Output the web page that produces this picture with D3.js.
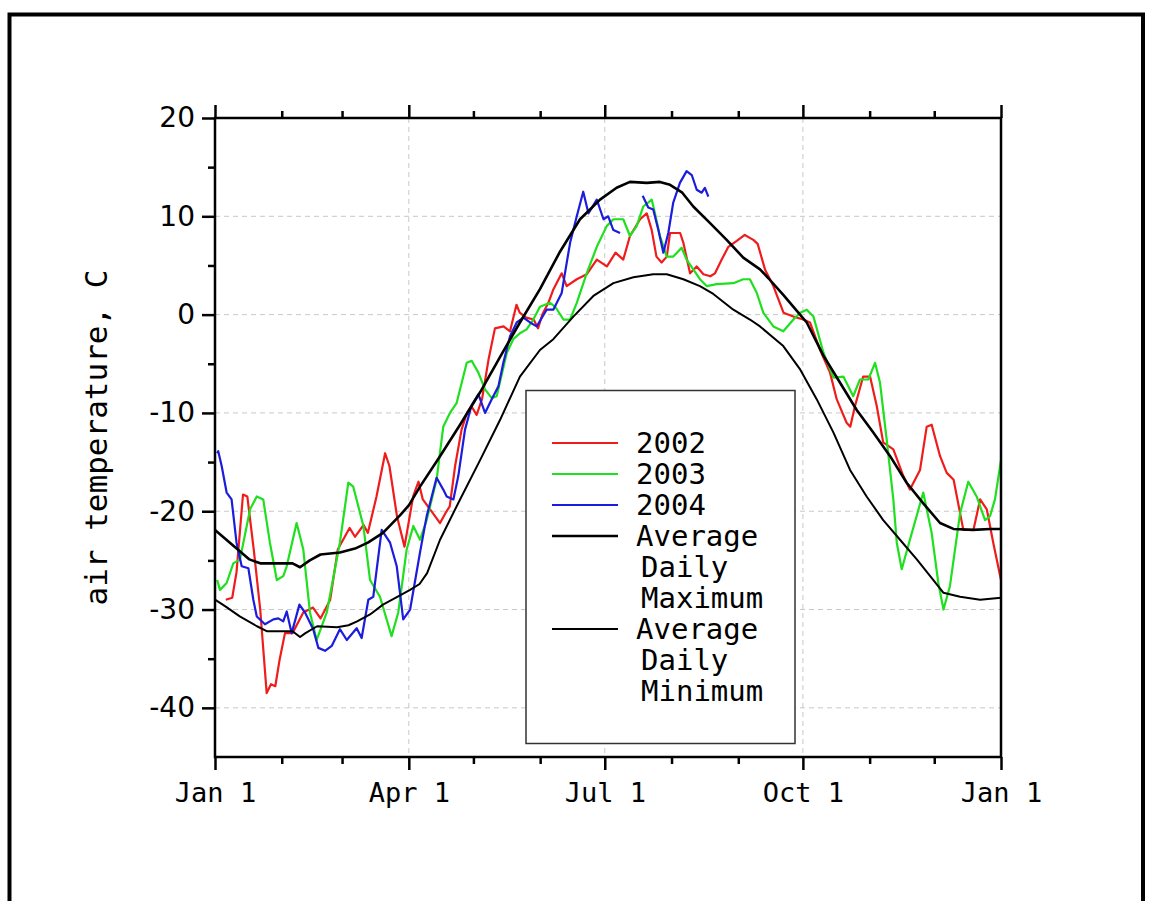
<!DOCTYPE html>
<html>
<head>
<meta charset="utf-8">
<script src="https://cdnjs.cloudflare.com/ajax/libs/d3/7.8.5/d3.min.js"></script>
<style>
  body { margin: 0; background: #fff; }
  svg { display: block; }
</style>
</head>
<body>
<div id="chart"><svg width="1152" height="901"></svg></div>
<script>
// day of year -> air temperature (C)
var temp2002 = [[5,-29.0],[8,-28.8],[10,-26.2],[13,-18.3],[15,-18.5],[18,-23.9],[21,-30.0],[24,-38.5],[26,-37.6],[28,-37.8],[30,-35.1],[32.5,-32.4],[36,-32.4],[41,-30.3],[45.5,-29.8],[49,-30.9],[53.5,-29.0],[57,-23.9],[62.5,-21.7],[65,-22.6],[69,-21.4],[71,-22.2],[75,-18.5],[79,-14.1],[81,-15.4],[84.5,-20.5],[88,-23.6],[92,-18.5],[94.5,-17.0],[96.5,-18.8],[101.5,-20.3],[104.5,-21.2],[107,-20.2],[109,-19.5],[111.5,-15.4],[114.5,-11.7],[117,-10.0],[119,-9.3],[121.5,-10.2],[124,-8.6],[125.5,-6.6],[127,-4.6],[130,-1.4],[134,-1.2],[137,-1.7],[140,1.0],[141.5,0.2],[144.5,-0.3],[148,-0.5],[150,-1.4],[152,0.0],[154.8,1.2],[157,2.5],[161,4.2],[163.3,2.9],[168,3.6],[172.6,4.1],[177.3,5.6],[182,4.9],[186,6.3],[189.6,5.6],[192.7,8.0],[197.4,9.7],[200.5,10.3],[202.8,8.6],[205,5.9],[207.4,5.3],[209.8,5.9],[211.3,8.3],[216,8.3],[217.5,7.3],[220.6,4.2],[223.7,4.9],[226.8,4.1],[230,3.9],[232.2,4.2],[235.3,5.6],[238.4,6.9],[242.3,7.5],[246,8.1],[250,7.6],[252,7.2],[255.4,4.6],[259.3,2.9],[264,0.2],[268.6,-0.2],[273.2,-0.5],[276.3,-0.8],[281,-3.6],[285.6,-5.9],[288.7,-8.6],[293.3,-11.0],[295,-11.4],[297.2,-9.3],[301,-6.3],[304.2,-6.3],[307.3,-9.3],[310.3,-13.0],[315,-13.7],[319.6,-16.4],[322.7,-17.8],[327.4,-15.8],[330.5,-11.4],[332.8,-11.2],[336.7,-14.4],[339.8,-16.1],[343,-16.8],[347.5,-21.9],[352.2,-21.9],[355.3,-18.8],[358.4,-19.8],[361.4,-23.2],[365,-27.0]];

var temp2003 = [[1,-27.0],[2.3,-28.0],[5.4,-27.3],[8.5,-25.3],[11.6,-24.9],[16.3,-19.8],[19.4,-18.5],[22.4,-18.8],[25.5,-23.2],[28.7,-27.0],[31.7,-26.6],[33.3,-25.6],[37.9,-21.2],[41,-23.9],[44.1,-30.3],[47.2,-33.1],[51.9,-30.3],[58,-23.2],[61.9,-17.1],[64.2,-17.5],[68.9,-21.5],[72,-27.0],[76.6,-28.7],[82,-32.7],[85.1,-30.3],[89,-23.9],[92.1,-21.5],[95.2,-22.9],[98.3,-20.9],[102.9,-16.8],[106,-11.4],[109.1,-10.0],[112.2,-9.0],[116.9,-4.9],[119.2,-4.7],[122.3,-5.9],[125.4,-7.6],[128.5,-8.5],[130.8,-8.3],[135.5,-3.9],[138.5,-2.5],[141.6,-1.9],[144.7,-1.5],[147.8,-0.5],[150.9,0.8],[155.6,1.2],[158,0.8],[161.8,-0.5],[164.9,-0.5],[168,1.2],[172.6,4.2],[177.3,6.9],[181.9,9.0],[185,9.7],[189.6,9.7],[192.7,8.0],[195.8,9.0],[198.9,11.0],[202.8,11.7],[204.3,10.3],[206.6,8.0],[209.8,5.9],[212.8,5.9],[216.7,6.8],[219,5.6],[222.1,4.6],[225.2,3.6],[228.3,2.9],[233,3.1],[240.7,3.2],[245.3,3.6],[248.4,3.6],[251.6,2.2],[254.6,0.2],[259.3,-1.2],[263.9,-1.7],[268.6,-0.5],[271.8,0.2],[274.8,0.5],[277.9,-0.2],[282.6,-3.9],[287.2,-6.4],[291.8,-6.3],[296.4,-8.3],[299.5,-6.6],[303.4,-6.6],[306.5,-4.9],[308.8,-6.9],[311.9,-12.7],[315,-18.8],[316.6,-23.2],[318.9,-25.9],[322.7,-22.9],[328.9,-18.1],[332.8,-22.2],[335.9,-27.3],[338.3,-30.0],[341.3,-27.6],[346,-20.2],[349.8,-17.0],[353.7,-18.5],[357.6,-20.9],[359.9,-20.5],[362.2,-18.8],[365,-14.8]];

// 2004 has a gap in early July (null = no data)
var temp2004 = [[1,-14.1],[1.5,-13.9],[3.1,-15.4],[5.4,-18.1],[7.7,-18.8],[10,-23.2],[12.4,-25.6],[15.5,-25.8],[17.8,-29.0],[19.4,-30.7],[23.2,-31.5],[27.1,-31.0],[29.4,-30.9],[31.7,-31.2],[33.3,-30.2],[35.6,-32.4],[39.2,-29.5],[41.8,-30.3],[45.6,-32.0],[48,-33.9],[51.1,-34.2],[54.2,-33.7],[58,-32.0],[61.2,-33.1],[65.8,-31.9],[68.1,-32.9],[71.2,-29.0],[73.5,-28.7],[77.4,-21.9],[81.3,-23.2],[84.4,-25.6],[87.4,-31.0],[90.6,-30.0],[95.2,-24.2],[98.3,-20.5],[102.9,-16.6],[106,-17.8],[107.6,-18.5],[110.7,-18.8],[113,-16.4],[116.1,-11.7],[119.2,-9.2],[122.3,-8.1],[125.4,-10.0],[128.5,-8.6],[131.6,-7.3],[133.9,-4.9],[137,-2.2],[140.1,-0.8],[143.2,-0.3],[146.3,-0.8],[149.4,-1.2],[154,0.5],[157.1,0.5],[161,2.2],[162.5,4.2],[164.9,7.3],[168,10.0],[171,12.5],[173.4,10.3],[177.3,11.7],[180.4,9.7],[182.6,10.0],[185,8.6],[188.1,8.3],[193,null],[198.6,12.1],[201.2,10.9],[203.5,10.7],[205.9,8.6],[208.2,6.3],[210.5,8.3],[212.8,11.4],[215.9,13.4],[219,14.6],[221.4,14.2],[223.7,12.7],[226,12.4],[227.5,12.9],[229.1,12.0]];

var avgMax = [[0,-21.9],[8,-23.4],[16,-24.9],[21,-25.3],[36,-25.3],[39.5,-25.7],[44,-25.0],[49,-24.4],[58,-24.2],[65,-23.8],[71,-23.2],[78,-22.2],[86,-20.4],[90,-19.4],[95.2,-17.5],[104.5,-14.4],[113.8,-11.2],[123.1,-7.9],[132.4,-4.3],[141.6,-0.8],[150.9,2.6],[160.2,6.4],[169.5,9.7],[178.8,11.7],[186.5,12.9],[192.7,13.5],[200.5,13.4],[206.6,13.5],[211.3,13.2],[217,12.4],[222.1,11.0],[229.9,9.3],[237.6,7.6],[245.3,5.8],[253.1,4.6],[257,3.7],[263.9,2.0],[270.1,0.4],[274.8,-0.8],[282.6,-4.2],[290.2,-6.9],[298,-9.7],[305.7,-12.0],[313.5,-14.4],[321.2,-17.1],[328.9,-19.2],[336.7,-21.2],[342.9,-21.8],[352,-21.9],[360,-21.8],[365,-21.8]];

var avgMin = [[0,-29.0],[5,-29.7],[11.5,-30.7],[19.5,-31.7],[24,-32.2],[36,-32.2],[39.5,-32.8],[42,-32.4],[47.4,-31.7],[56.7,-31.8],[62,-31.6],[66,-31.2],[72,-30.5],[78,-29.5],[84,-28.8],[90.6,-28.0],[95,-27.4],[98.5,-26.3],[104.5,-22.9],[113.8,-18.8],[123.1,-14.8],[132.4,-10.7],[141.6,-6.3],[150.9,-3.6],[157.1,-2.5],[166.4,-0.2],[175.7,1.9],[185,3.2],[194.3,3.8],[203.5,4.1],[209.8,4.1],[217.5,3.6],[225.2,2.9],[231.4,2.1],[240.7,0.5],[248.4,-0.5],[253.1,-1.2],[263.9,-3.2],[271.8,-5.6],[279.4,-8.6],[287.2,-12.0],[294.9,-15.8],[302.6,-18.5],[310.3,-20.9],[318.1,-22.9],[325.9,-24.9],[333.6,-27.0],[338.3,-28.3],[346,-28.7],[355.3,-29.0],[365,-28.8]];

var majorDays = [0, 90, 181, 273, 365];
var majorLabels = ['Jan 1', 'Apr 1', 'Jul 1', 'Oct 1', 'Jan 1'];
var minorDays = [31, 59, 120, 151, 212, 243, 304, 334];
var yMajor = [-40, -30, -20, -10, 0, 10, 20];
var yMinor = [-35, -25, -15, -5, 5, 15];

var seriesNames = ['2002', '2003', '2004', 'Average\n Daily\n Maximum', 'Average\n Daily\n Minimum'];
var seriesData = [temp2002, temp2003, temp2004, avgMax, avgMin];
var seriesColors = ['#f01c1c', '#1ee01e', '#1c1cdc', '#000', '#000'];
var seriesWidths = [2.2, 2.2, 2.2, 2.6, 2];

var svg = d3.select('#chart > svg');
var plot = { left: 215, top: 118, right: 1001, bottom: 757 };
var mono = '"DejaVu Sans Mono", monospace';
var sans = '"DejaVu Sans", sans-serif';

var xScale = d3.scaleLinear().domain([0, 365]).range([plot.left, plot.right]);
var yScale = d3.scaleLinear().domain([-45, 20]).range([plot.bottom, plot.top]);

// outer frame
svg.append('path')
	.attr('d', 'M9.5,905V14.5H1143V905')
	.attr('fill', 'none')
	.attr('stroke', '#000')
	.attr('stroke-width', 4);

// grids
var grids = svg.append('g').attr('class', 'grids');
grids.selectAll('.x.grid')
	.data(majorDays.slice(1, -1))
	.enter().append('line')
	.attr('class', 'x grid')
	.attr('x1', function(d) { return xScale(d) })
	.attr('x2', function(d) { return xScale(d) })
	.attr('y1', plot.top)
	.attr('y2', plot.bottom);
grids.selectAll('.y.grid')
	.data(yMajor.slice(0, -1))
	.enter().append('line')
	.attr('class', 'y grid')
	.attr('x1', plot.left)
	.attr('x2', plot.right)
	.attr('y1', function(d) { return yScale(d) })
	.attr('y2', function(d) { return yScale(d) });
grids.selectAll('line')
	.attr('stroke', '#c8c8c8')
	.attr('stroke-width', 1)
	.attr('stroke-dasharray', '5,4');

// lines
var line = d3.line()
	.defined(function(d) { return d[1] !== null })
	.x(function(d) { return xScale(d[0]) })
	.y(function(d) { return yScale(d[1]) });
svg.append('g').attr('class', 'plot')
	.selectAll('path')
	.data(seriesData)
	.enter().append('path')
	.attr('d', line)
	.attr('fill', 'none')
	.attr('stroke', function(d, i) { return seriesColors[i] })
	.attr('stroke-width', function(d, i) { return seriesWidths[i] })
	.attr('stroke-linejoin', 'round');

// legend
var legend = svg.append('g').attr('class', 'legend');
legend.append('rect')
	.attr('x', 526).attr('y', 390.5)
	.attr('width', 269).attr('height', 353)
	.attr('fill', '#fff')
	.attr('stroke', '#333')
	.attr('stroke-width', 1.5);
var rowY = 443;
seriesNames.forEach(function(name, i) {
	var rows = name.split('\n');
	legend.append('line')
		.attr('x1', 552).attr('x2', 618)
		.attr('y1', rowY).attr('y2', rowY)
		.attr('stroke', seriesColors[i])
		.attr('stroke-width', seriesWidths[i]);
	rows.forEach(function(r, j) {
		legend.append('text')
			.attr('x', r[0] === ' ' ? 641 : 636)
			.attr('y', rowY + j * 31)
			.attr('dy', '0.36em')
			.attr('font-family', mono)
			.attr('font-size', 29)
			.text(r.trim());
	});
	rowY += rows.length * 31;
});

// plot frame
svg.append('rect')
	.attr('x', plot.left).attr('y', plot.top)
	.attr('width', plot.right - plot.left).attr('height', plot.bottom - plot.top)
	.attr('fill', 'none')
	.attr('stroke', '#000')
	.attr('stroke-width', 2.5);

// axes
function styleAxis(g) {
	g.select('.domain').remove();
	g.selectAll('.tick line').attr('stroke', '#000').attr('stroke-width', 2.5);
	g.selectAll('.tick text').attr('fill', '#000');
}
svg.append('g')
	.attr('transform', 'translate(0,' + plot.bottom + ')')
	.call(d3.axisBottom(xScale).tickValues(majorDays).tickSize(13).tickPadding(13)
		.tickFormat(function(d, i) { return majorLabels[i] }))
	.attr('font-family', mono).attr('font-size', 27)
	.call(styleAxis);
svg.append('g')
	.attr('transform', 'translate(0,' + plot.bottom + ')')
	.call(d3.axisBottom(xScale).tickValues(minorDays).tickSize(7).tickFormat(''))
	.call(styleAxis);
svg.append('g')
	.attr('transform', 'translate(0,' + plot.top + ')')
	.call(d3.axisTop(xScale).tickValues(majorDays).tickSize(13).tickFormat(''))
	.call(styleAxis);
svg.append('g')
	.attr('transform', 'translate(0,' + plot.top + ')')
	.call(d3.axisTop(xScale).tickValues(minorDays).tickSize(7).tickFormat(''))
	.call(styleAxis);
svg.append('g')
	.attr('transform', 'translate(' + plot.left + ',0)')
	.call(d3.axisLeft(yScale).tickValues(yMajor).tickSize(13).tickPadding(7)
		.tickFormat(function(d) { return String(d) }))
	.attr('font-family', sans).attr('font-size', 28)
	.call(styleAxis);
svg.append('g')
	.attr('transform', 'translate(' + plot.left + ',0)')
	.call(d3.axisLeft(yScale).tickValues(yMinor).tickSize(7).tickFormat(''))
	.call(styleAxis);

// y label
svg.append('text')
	.attr('transform', 'translate(96,' + ((plot.top + plot.bottom) / 2) + ') rotate(-90)')
	.attr('text-anchor', 'middle')
	.attr('dy', '0.36em')
	.attr('font-family', mono)
	.attr('font-size', 31)
	.text('air temperature, C');
</script>
</body>
</html>
